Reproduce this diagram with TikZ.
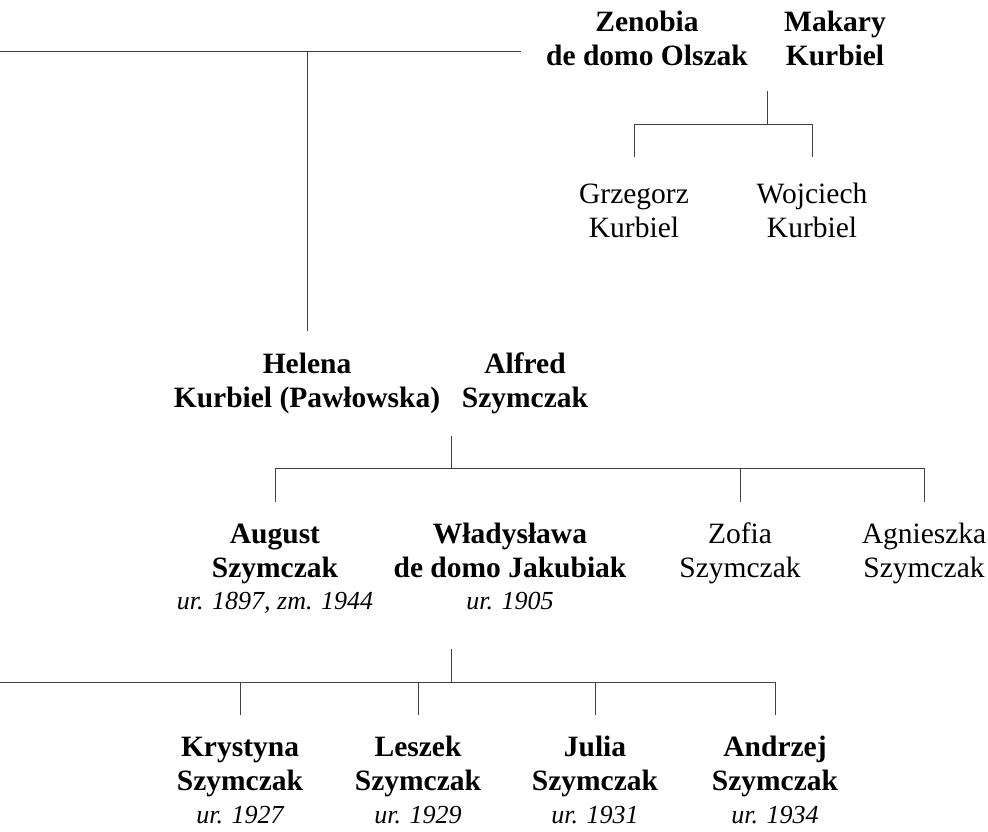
\documentclass[tikz,border=0pt]{standalone}
\usepackage{fontspec}
\setmainfont{Liberation Serif}
\newcommand{\pfont}{\fontsize{29.5}{34}\selectfont}
\newcommand{\dfont}{\fontsize{26}{31}\selectfont\itshape}
\begin{document}
\begin{tikzpicture}[x=1pt,y=-1pt,
  bname/.style={align=center, anchor=base, inner sep=0pt, font=\pfont\bfseries},
  rname/.style={align=center, anchor=base, inner sep=0pt, font=\pfont},
  dates/.style={anchor=base, inner sep=0pt, font=\dfont},
  link/.style={draw=black!75, line width=0.9pt}]
\useasboundingbox (0,0) rectangle (988,831);

% generation 1 (anchor base = baseline of the last line)
\node[bname] (zenobia) at (647,65) {Zenobia\\de domo Olszak};
\node[bname] (makary) at (835,65) {Makary\\Kurbiel};
\node[rname] (grzegorz) at (634,237) {Grzegorz\\Kurbiel};
\node[rname] (wojciech) at (812,237) {Wojciech\\Kurbiel};

% generation 2
\node[bname] (helena) at (307,407) {Helena\\Kurbiel (Pawłowska)};
\node[bname] (alfred) at (525,407) {Alfred\\Szymczak};

% generation 3
\node[bname] (august) at (275,577) {August\\Szymczak};
\node[dates] (augustd) at (275,609) {ur. 1897, zm. 1944};
\node[bname] (wladyslawa) at (510,577) {Władysława\\de domo Jakubiak};
\node[dates] (wladyslawad) at (510,609) {ur. 1905};
\node[rname] (zofia) at (740,577) {Zofia\\Szymczak};
\node[rname] (agnieszka) at (924,577) {Agnieszka\\Szymczak};

% generation 4
\node[bname] (krystyna) at (240,790) {Krystyna\\Szymczak};
\node[dates] (krystynad) at (240,823) {ur. 1927};
\node[bname] (leszek) at (418,790) {Leszek\\Szymczak};
\node[dates] (leszekd) at (418,823) {ur. 1929};
\node[bname] (julia) at (595,790) {Julia\\Szymczak};
\node[dates] (juliad) at (595,823) {ur. 1931};
\node[bname] (andrzej) at (775,790) {Andrzej\\Szymczak};
\node[dates] (andrzejd) at (775,823) {ur. 1934};

% top-left branch to Helena
\coordinate (tl) at (0,51);
\coordinate (tr) at (521,51);
\draw[link] (tl) -- (tr);
\draw[link] (helena.north |- tr) -- ++(0,280);

% Zenobia + Makary -> children
\coordinate (zm) at (767,91);
\draw[link] (zm) -- ++(0,33) coordinate (zmbar);
\draw[link] (grzegorz.north |- zmbar) -- (wojciech.north |- zmbar);
\draw[link] (grzegorz.north |- zmbar) -- ++(0,33);
\draw[link] (wojciech.north |- zmbar) -- ++(0,33);

% Helena + Alfred -> children
\coordinate (ha) at (451,436);
\draw[link] (ha) -- ++(0,32) coordinate (habar);
\draw[link] (august.north |- habar) -- (agnieszka.north |- habar);
\draw[link] (august.north |- habar) -- ++(0,34);
\draw[link] (zofia.north |- habar) -- ++(0,34);
\draw[link] (agnieszka.north |- habar) -- ++(0,34);

% August + Wladyslawa -> children
\coordinate (aw) at (451,649);
\draw[link] (aw) -- ++(0,33) coordinate (awbar);
\coordinate (awl) at (0,682);
\draw[link] (awl) -- (andrzej.north |- awbar);
\draw[link] (krystyna.north |- awbar) -- ++(0,33);
\draw[link] (leszek.north |- awbar) -- ++(0,33);
\draw[link] (julia.north |- awbar) -- ++(0,33);
\draw[link] (andrzej.north |- awbar) -- ++(0,33);
\end{tikzpicture}
\end{document}
